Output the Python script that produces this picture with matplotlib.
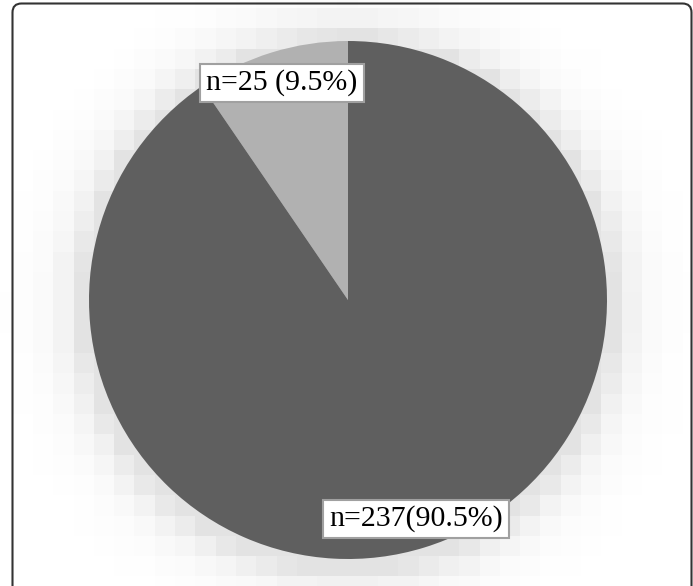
import numpy as np
import matplotlib.pyplot as plt
from matplotlib.patches import FancyBboxPatch

# Datos del gráfico
etiquetas = ['n=25 (9.5%)', 'n=237(90.5%)']
valores = [25, 237]
colores = ['#b1b1b1', '#5f5f5f']

W, H = 693, 586
fig = plt.figure(figsize=(W / 100, H / 100), dpi=100)
ax = fig.add_axes([0, 0, 1, 1])
ax.set_xlim(0, W)
ax.set_ylim(0, H)
ax.set_aspect('equal')
ax.axis('off')

cx, cy, r = 348, 286, 259

# Sombra difusa en bloques alrededor del círculo
bloque = 20.3
x0, y0 = 33 - 2 * bloque, 8 - bloque
nx = int((W - x0) / bloque) + 2
ny = int((H - y0) / bloque) + 2
xs = x0 + (np.arange(nx) + 0.5) * bloque
ys = y0 + (np.arange(ny) + 0.5) * bloque
XX, YY = np.meshgrid(xs, ys)
d = np.hypot(XX - cx, (H - YY) - cy)
sombra = 1 - 0.11 * np.exp(-np.clip(d - 266, 0, None) / 24)
ax.imshow(sombra, cmap='gray', vmin=0, vmax=1, interpolation='nearest',
          extent=(x0, x0 + nx * bloque, H - y0, H - (y0 + ny * bloque)),
          origin='upper', zorder=0)

ax.pie(valores, colors=colores, startangle=90, counterclock=True,
       center=(cx, cy), radius=r, frame=True,
       wedgeprops=dict(linewidth=0))
ax.set_xlim(0, W)
ax.set_ylim(0, H)
ax.axis('off')

caja = dict(boxstyle='square,pad=0.2', facecolor='white', edgecolor='#a0a0a0', linewidth=1.5)
ax.text(282, H - 83, etiquetas[0], ha='center', va='center', fontsize=21.5,
        family='Liberation Serif', bbox=caja, zorder=5)
ax.text(416, H - 519, etiquetas[1], ha='center', va='center', fontsize=21.5,
        family='Liberation Serif', bbox=caja, zorder=5)

# Marco redondeado
marco = FancyBboxPatch((12.5, -30), 679, H - 3.5 + 30,
                       boxstyle='round,pad=0,rounding_size=9',
                       facecolor='none', edgecolor='#333333', linewidth=1.5, zorder=6)
ax.add_patch(marco)

fig.savefig('out.png', dpi=100)
